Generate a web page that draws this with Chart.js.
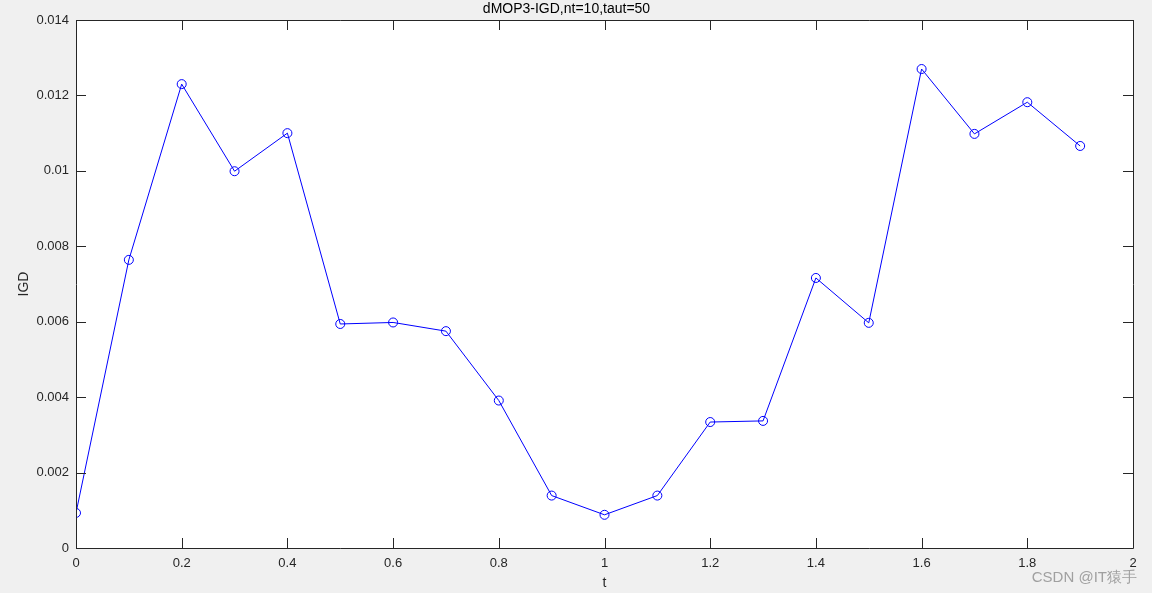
<!DOCTYPE html>
<html>
<head>
<meta charset="utf-8">
<script src="https://cdn.jsdelivr.net/npm/chart.js@4.4.1/dist/chart.umd.min.js"></script>
<style>
html,body{margin:0;padding:0;background:#f0f0f0;}
#wrap{width:1152px;height:593px;}
</style>
</head>
<body>
<div id="wrap"><canvas id="c" width="1152" height="593"></canvas></div>
<script>
const tValues = [0,0.1,0.2,0.3,0.4,0.5,0.6,0.7,0.8,0.9,1.0,1.1,1.2,1.3,1.4,1.5,1.6,1.7,1.8,1.9];
const igdValues = [0.00093,0.00764,0.01230,0.00999,0.01100,0.00594,0.00598,0.00575,0.00391,0.00139,0.00088,0.00139,0.00334,0.00337,0.00716,0.00597,0.01270,0.01098,0.01182,0.01066];
const xTicks = [0,0.2,0.4,0.6,0.8,1,1.2,1.4,1.6,1.8,2];
const yTicks = [0,0.002,0.004,0.006,0.008,0.01,0.012,0.014];
const titleText = 'dMOP3-IGD,nt=10,taut=50';
const xLabel = 't';
const yLabel = 'IGD';
const watermark = 'CSDN @IT猿手';

const FONT = '"Liberation Sans", Arial, Helvetica, sans-serif';

const framePlugin = {
  id: 'frame',
  beforeDraw(chart) {
    const {ctx, chartArea: a} = chart;
    ctx.save();
    ctx.fillStyle = '#f0f0f0';
    ctx.fillRect(0, 0, chart.width, chart.height);
    ctx.fillStyle = '#ffffff';
    ctx.fillRect(a.left, a.top, a.right - a.left, a.bottom - a.top);
    ctx.restore();
  },
  afterDatasetsDraw(chart) {
    const {ctx, chartArea: a, scales} = chart;
    ctx.save();
    ctx.strokeStyle = '#262626';
    ctx.lineWidth = 1;
    ctx.beginPath();
    ctx.rect(Math.round(a.left) + 0.5, Math.round(a.top) + 0.5, Math.round(a.right - a.left), Math.round(a.bottom - a.top));
    ctx.stroke();
    const L = 10;
    ctx.beginPath();
    xTicks.forEach(v => {
      const x = Math.round(scales.x.getPixelForValue(v)) + 0.5;
      ctx.moveTo(x, a.bottom); ctx.lineTo(x, a.bottom - L);
      ctx.moveTo(x, a.top); ctx.lineTo(x, a.top + L);
    });
    yTicks.forEach(v => {
      const y = Math.round(scales.y.getPixelForValue(v)) + 0.5;
      ctx.moveTo(a.left, y); ctx.lineTo(a.left + L, y);
      ctx.moveTo(a.right, y); ctx.lineTo(a.right - L, y);
    });
    ctx.stroke();
    ctx.fillStyle = '#a0a0a0';
    ctx.font = '15px ' + FONT;
    ctx.textAlign = 'right';
    ctx.textBaseline = 'middle';
    ctx.fillText(watermark, 1137, 578);
    ctx.restore();
  }
};

new Chart(document.getElementById('c'), {
  type: 'line',
  data: {
    datasets: [{
      data: tValues.map((t, i) => ({x: t, y: igdValues[i]})),
      borderColor: '#0000ff',
      borderWidth: 1,
      pointStyle: 'circle',
      pointRadius: 4.5,
      pointBorderColor: '#0000ff',
      pointBackgroundColor: 'rgba(0,0,0,0)',
      pointBorderWidth: 1,
      tension: 0,
      fill: false
    }]
  },
  options: {
    responsive: false,
    animation: false,
    devicePixelRatio: 1,
    layout: {padding: {top: 0, right: 19, bottom: 0, left: 0}},
    plugins: {
      legend: {display: false},
      tooltip: {enabled: false},
      title: {
        display: true,
        text: titleText,
        color: '#000000',
        font: {family: FONT, size: 14, weight: 'normal', lineHeight: 1.2},
        padding: {top: 1, bottom: 2.2}
      }
    },
    scales: {
      x: {
        type: 'linear',
        min: 0, max: 2,
        afterBuildTicks(s) { s.ticks = xTicks.map(v => ({value: v})); },
        afterFit(s) { s.height = 45; },
        grid: {display: false, drawTicks: false},
        border: {display: false},
        ticks: {
          color: '#262626',
          font: {family: FONT, size: 13},
          padding: 8,
          maxRotation: 0,
          autoSkip: false,
          callback: v => String(Number(v.toFixed(4)))
        },
        title: {
          display: true, text: xLabel, color: '#262626',
          font: {family: FONT, size: 14},
          padding: {top: 0, bottom: 1}
        }
      },
      y: {
        type: 'linear',
        min: 0, max: 0.014,
        afterBuildTicks(s) { s.ticks = yTicks.map(v => ({value: v})); },
        afterFit(s) { s.width = 76; },
        grid: {display: false, drawTicks: false},
        border: {display: false},
        ticks: {
          color: '#262626',
          font: {family: FONT, size: 13},
          padding: 7,
          autoSkip: false,
          callback: v => String(Number(v.toFixed(4)))
        },
        title: {
          display: true, text: yLabel, color: '#262626',
          font: {family: FONT, size: 14},
          padding: {top: 16, bottom: 0}
        }
      }
    }
  },
  plugins: [framePlugin]
});
</script>
</body>
</html>
